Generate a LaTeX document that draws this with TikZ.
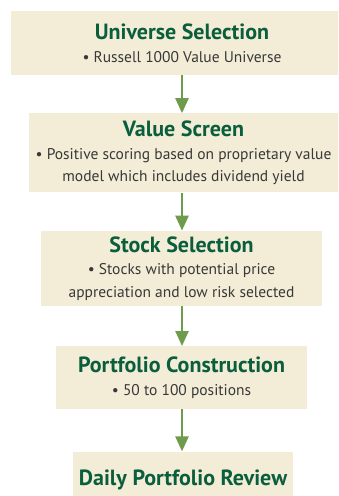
\documentclass[tikz,border=0pt]{standalone}
\usepackage{fontspec}
\setmainfont{PT Sans}
\usetikzlibrary{arrows.meta, positioning}

\definecolor{boksfyll}{HTML}{F3EDD8}
\definecolor{tittelgronn}{HTML}{0B5E3C}
\definecolor{pilgronn}{HTML}{6E9B4C}
\definecolor{brodtekst}{HTML}{383838}

\newcommand{\tittel}[1]{{\fontsize{22}{22}\selectfont\bfseries\color{tittelgronn}#1}}

\begin{document}
\begin{tikzpicture}[
x=1pt, y=-1pt,
every node/.append style = {inner sep=0pt},
node distance = 38pt,
  boks/.style = {fill=boksfyll, align=center, text=brodtekst,
                 font=\fontsize{15.5}{22.5}\selectfont,
                 minimum width=#1},
  pil/.style  = {line width=2.5pt, pilgronn,
                 -{Triangle[width=13pt,length=15pt]}}
                    ]
\fill[white] (0,0) rectangle (338,496);
\useasboundingbox (0,0) rectangle (338,496);
\begin{scope}
\clip (0,0) rectangle (338,496);
%nodes
\node (universe)  [boks=342pt, minimum height=64pt]
                  at (182,43)
                  {\tittel{Universe Selection}\\ • Russell 1000 Value Universe};
\node (screen)    [boks=309pt, minimum height=79pt,
                   below=of universe, xshift=1.5pt]
                  {\tittel{Value Screen}\\ • Positive scoring based on proprietary value\\
                   model which includes dividend yield};
\node (stock)     [boks=281pt, minimum height=75pt,
                   below=of screen, xshift=-2pt]
                  {\tittel{Stock Selection}\\ • Stocks with potential price\\
                   appreciation and low risk selected};
\node (portfolio) [boks=251pt, minimum height=63pt,
                   below=40pt of stock]
                  {\tittel{Portfolio Construction}\\ • 50 to 100 positions};
\node (review)    [boks=220pt, minimum height=57pt,
                   below=42pt of portfolio, xshift=1.5pt]
                  {\tittel{Daily Portfolio Review}};
\end{scope}
% edges
\draw[pil] (universe.south -| 182,0)  -- (screen.north -| 182,0);
\draw[pil] (screen.south -| 182,0)    -- (stock.north -| 182,0);
\draw[pil] (stock.south -| 182,0)     -- (portfolio.north -| 182,0);
\draw[pil] (portfolio.south -| 182,0) -- (review.north -| 182,0);
\end{tikzpicture}
\end{document}
